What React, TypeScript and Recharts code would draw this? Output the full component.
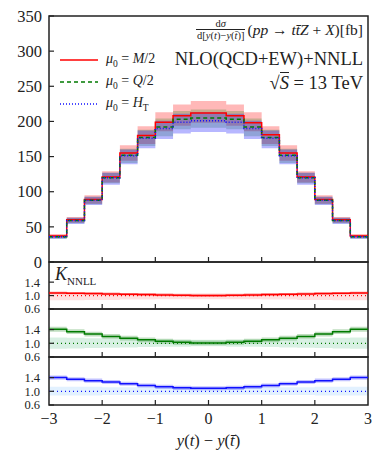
import React from 'react';
import {
  ComposedChart,
  Line,
  Area,
  XAxis,
  YAxis,
  ReferenceLine,
  ReferenceArea,
} from 'recharts';

// bin edges of y(t) - y(tbar), 18 bins of width 1/3
const binEdges = [
  -3, -2.6667, -2.3333, -2, -1.6667, -1.3333, -1, -0.6667, -0.3333, 0,
  0.3333, 0.6667, 1, 1.3333, 1.6667, 2, 2.3333, 2.6667, 3,
];
const xTicks = [-3, -2, -1, 0, 1, 2, 3];
const mainTicks = [0, 50, 100, 150, 200, 250, 300, 350];
const ratioTicks = [0.6, 1.0, 1.4];

// main panel, dsigma/dy [fb]
const sigM2 = [37, 60, 89, 121, 155, 180, 199, 208, 212, 212, 208, 198, 181, 155, 121, 89, 60, 37];
const sigM2Lo = [34, 56, 83, 113, 144, 168, 186, 194, 198, 198, 194, 186, 168, 144, 113, 83, 56, 34];
const sigM2Hi = [40, 64, 95, 129, 166, 193, 213, 224, 229, 229, 224, 213, 193, 166, 129, 95, 64, 40];

const sigQ2 = [36, 59, 88, 120, 152, 177, 192, 203, 205, 205, 203, 192, 177, 152, 120, 88, 59, 36];
const sigQ2Lo = [33, 55, 82, 112, 141, 165, 179, 189, 191, 191, 189, 179, 165, 141, 112, 82, 55, 33];
const sigQ2Hi = [38, 63, 93, 127, 161, 188, 204, 215, 217, 217, 215, 204, 188, 161, 127, 93, 63, 38];

const sigHT = [36, 59, 88, 120, 151, 176, 190, 199, 201, 201, 199, 190, 176, 151, 120, 88, 59, 36];
const sigHTLo = [33, 54, 81, 110, 139, 162, 175, 183, 185, 185, 183, 175, 162, 139, 110, 81, 54, 33];
const sigHTHi = [38, 63, 93, 127, 160, 187, 201, 211, 213, 213, 211, 201, 187, 160, 127, 93, 63, 38];

// K factors (NNLL / NLO)
const kM2 = [1.08, 1.07, 1.06, 1.05, 1.04, 1.03, 1.02, 1.01, 1.0, 1.0, 1.01, 1.02, 1.03, 1.04, 1.05, 1.06, 1.07, 1.08];
const kM2Lo = [1.04, 1.03, 1.02, 1.01, 1.0, 0.99, 0.98, 0.97, 0.96, 0.96, 0.97, 0.98, 0.99, 1.0, 1.01, 1.02, 1.03, 1.04];
const kM2Hi = [1.12, 1.11, 1.1, 1.09, 1.08, 1.07, 1.06, 1.05, 1.04, 1.04, 1.05, 1.06, 1.07, 1.08, 1.09, 1.1, 1.11, 1.12];
const nloM2Lo = [0.86, 0.86, 0.87, 0.87, 0.88, 0.88, 0.89, 0.89, 0.89, 0.89, 0.89, 0.89, 0.88, 0.88, 0.87, 0.87, 0.86, 0.86];
const nloM2Hi = [1.1, 1.1, 1.09, 1.09, 1.08, 1.08, 1.08, 1.07, 1.07, 1.07, 1.07, 1.08, 1.08, 1.08, 1.09, 1.09, 1.1, 1.1];

const kQ2 = [1.41, 1.34, 1.27, 1.2, 1.15, 1.1, 1.06, 1.03, 1.01, 1.01, 1.03, 1.06, 1.1, 1.15, 1.2, 1.27, 1.34, 1.41];
const kQ2Lo = [1.34, 1.27, 1.2, 1.13, 1.08, 1.03, 0.99, 0.96, 0.94, 0.94, 0.96, 0.99, 1.03, 1.08, 1.13, 1.2, 1.27, 1.34];
const kQ2Hi = [1.48, 1.41, 1.34, 1.27, 1.22, 1.17, 1.13, 1.1, 1.08, 1.08, 1.1, 1.13, 1.17, 1.22, 1.27, 1.34, 1.41, 1.48];
const nloQ2Lo = [0.84, 0.85, 0.86, 0.87, 0.88, 0.89, 0.9, 0.9, 0.91, 0.91, 0.9, 0.9, 0.89, 0.88, 0.87, 0.86, 0.85, 0.84];
const nloQ2Hi = [1.17, 1.16, 1.15, 1.14, 1.13, 1.12, 1.11, 1.1, 1.1, 1.1, 1.1, 1.11, 1.12, 1.13, 1.14, 1.15, 1.16, 1.17];

const kHT = [1.4, 1.35, 1.31, 1.27, 1.22, 1.17, 1.13, 1.1, 1.09, 1.09, 1.1, 1.13, 1.17, 1.22, 1.27, 1.31, 1.35, 1.4];
const kHTLo = [1.34, 1.29, 1.25, 1.21, 1.16, 1.11, 1.07, 1.04, 1.03, 1.03, 1.04, 1.07, 1.11, 1.16, 1.21, 1.25, 1.29, 1.34];
const kHTHi = [1.46, 1.41, 1.37, 1.33, 1.28, 1.23, 1.19, 1.16, 1.15, 1.15, 1.16, 1.19, 1.23, 1.28, 1.33, 1.37, 1.41, 1.46];
const nloHTLo = [0.88, 0.88, 0.88, 0.89, 0.89, 0.89, 0.9, 0.9, 0.9, 0.9, 0.9, 0.9, 0.89, 0.89, 0.89, 0.88, 0.88, 0.88];
const nloHTHi = [1.13, 1.13, 1.13, 1.12, 1.12, 1.12, 1.11, 1.11, 1.11, 1.11, 1.11, 1.11, 1.12, 1.12, 1.12, 1.13, 1.13, 1.13];

const W = 392;
const H = 476;
const PLOT_L = 49;
const PLOT_R = 368;
const FONT = '"Liberation Serif", "DejaVu Serif", serif';
const INK = '#222';
const RED = '#ff0000';
const GREEN = '#007a00';
const BLUE = '#1010ff';

// one row per bin edge, last edge repeats the last bin so stepAfter closes the histogram
const stepRows = (cols: Record<string, number[]>) =>
  binEdges.map((x, i) => {
    const row: Record<string, number> = { x };
    Object.keys(cols).forEach((k) => {
      const arr = cols[k];
      row[k] = arr[Math.min(i, arr.length - 1)];
    });
    return row;
  });

const mainRows = stepRows({ sigM2, sigM2Lo, sigM2Hi, sigQ2, sigQ2Lo, sigQ2Hi, sigHT, sigHTLo, sigHTHi });

const XTick = ({ x, y, payload, showLabel }: any) => {
  const v = payload.value;
  return (
    <g>
      {v > -3 && v < 3 && <line x1={x} x2={x} y1={y} y2={y - 5} stroke={INK} strokeWidth={1.2} />}
      {showLabel && (
        <text x={x} y={y + 19} textAnchor="middle" fontFamily={FONT} fontSize={16} fill={INK}>
          {v < 0 ? `\u2212${Math.abs(v)}` : `${v}`}
        </text>
      )}
    </g>
  );
};

const YTick = ({ x, y, payload, digits, size, gap }: any) => (
  <g>
    <line x1={x} x2={x + 5} y1={y} y2={y} stroke={INK} strokeWidth={1.2} />
    <text x={x - gap} y={y} dy="0.35em" textAnchor="end" fontFamily={FONT} fontSize={size} fill={INK}>
      {payload.value.toFixed(digits)}
    </text>
  </g>
);

const layerStyle: React.CSSProperties = { position: 'absolute', left: 0, top: 0 };

const margins = (top: number, bottom: number) => ({
  top,
  right: W - PLOT_R,
  bottom: H - bottom - 30,
  left: 0,
});

const RatioPanel = ({ top, bottom, k, kLo, kHi, lo, hi, color, nloColor, nloOpacity, showLabels }: any) => {
  const rows = stepRows({ k, kLo, kHi, lo, hi });
  return (
    <div style={layerStyle}>
      <ComposedChart width={W} height={H} data={rows} margin={margins(top, bottom)}>
        <XAxis
          type="number"
          dataKey="x"
          domain={[-3, 3]}
          ticks={xTicks}
          interval={0}
          allowDataOverflow
          axisLine={false}
          tickLine={false}
          tickSize={0}
          tickMargin={0}
          height={30}
          tick={(p: any) => <XTick {...p} showLabel={showLabels} />}
        />
        <YAxis
          type="number"
          domain={[0.6, 2.0]}
          ticks={ratioTicks}
          interval={0}
          allowDataOverflow
          width={PLOT_L}
          axisLine={false}
          tickLine={false}
          tickSize={0}
          tickMargin={0}
          tick={(p: any) => <YTick {...p} digits={1} size={12.5} gap={9} />}
        />
        <Area
          type="stepAfter"
          dataKey={(d: any) => [d.lo, d.hi]}
          stroke="none"
          fill={nloColor}
          fillOpacity={nloOpacity}
          isAnimationActive={false}
        />
        <Area
          type="stepAfter"
          dataKey={(d: any) => [d.kLo, d.kHi]}
          stroke="none"
          fill={color}
          fillOpacity={0.25}
          isAnimationActive={false}
        />
        <ReferenceLine y={1} stroke={color} strokeWidth={1.3} strokeDasharray="1 3" />
        <Line type="stepAfter" dataKey="k" stroke={color} strokeWidth={1.5} dot={false} isAnimationActive={false} />
        <ReferenceArea x1={-3} x2={3} y1={0.6} y2={2.0} fill="none" stroke={INK} strokeWidth={1.5} ifOverflow="visible" />
      </ComposedChart>
    </div>
  );
};

const LegendRow = ({ top, color, dash, children }: any) => (
  <div style={{ position: 'absolute', left: 60, top, display: 'flex', alignItems: 'center', height: 16 }}>
    <svg width={38} height={6} style={{ marginRight: 8 }}>
      <line x1={0} x2={38} y1={3} y2={3} stroke={color} strokeWidth={1.5} strokeDasharray={dash} />
    </svg>
    <span style={{ fontFamily: FONT, fontSize: 14, color: INK, whiteSpace: 'nowrap' }}>{children}</span>
  </div>
);

const App = () => {
  return (
    <div style={{ position: 'fixed', left: 0, top: 0, width: W, height: H, background: '#fff', overflow: 'hidden' }}>
      <div style={layerStyle}>
        <ComposedChart width={W} height={H} data={mainRows} margin={margins(16, 262)}>
          <XAxis
            type="number"
            dataKey="x"
            domain={[-3, 3]}
            ticks={xTicks}
            interval={0}
            allowDataOverflow
            axisLine={false}
            tickLine={false}
            tickSize={0}
            tickMargin={0}
            height={30}
            tick={(p: any) => <XTick {...p} showLabel={false} />}
          />
          <YAxis
            type="number"
            domain={[0, 350]}
            ticks={mainTicks}
            interval={0}
            allowDataOverflow
            width={PLOT_L}
            axisLine={false}
            tickLine={false}
            tickSize={0}
            tickMargin={0}
            tick={(p: any) => <YTick {...p} digits={0} size={16.5} gap={7} />}
          />
          <Area type="stepAfter" dataKey={(d: any) => [d.sigM2Lo, d.sigM2Hi]} stroke="none" fill={RED} fillOpacity={0.28} isAnimationActive={false} />
          <Area type="stepAfter" dataKey={(d: any) => [d.sigQ2Lo, d.sigQ2Hi]} stroke="none" fill={GREEN} fillOpacity={0.22} isAnimationActive={false} />
          <Area type="stepAfter" dataKey={(d: any) => [d.sigHTLo, d.sigHTHi]} stroke="none" fill={BLUE} fillOpacity={0.3} isAnimationActive={false} />
          <Line type="stepAfter" dataKey="sigM2" stroke={RED} strokeWidth={1.5} dot={false} isAnimationActive={false} />
          <Line type="stepAfter" dataKey="sigQ2" stroke={GREEN} strokeWidth={1.5} strokeDasharray="4 3" dot={false} isAnimationActive={false} />
          <Line type="stepAfter" dataKey="sigHT" stroke={BLUE} strokeWidth={1.5} strokeDasharray="1 2" dot={false} isAnimationActive={false} />
          <ReferenceArea x1={-3} x2={3} y1={0} y2={350} fill="none" stroke={INK} strokeWidth={1.5} ifOverflow="visible" />
        </ComposedChart>
      </div>

      <RatioPanel top={262} bottom={309} k={kM2} kLo={kM2Lo} kHi={kM2Hi} lo={nloM2Lo} hi={nloM2Hi} color={RED} nloColor={RED} nloOpacity={0.12} showLabels={false} />
      <RatioPanel top={309} bottom={357} k={kQ2} kLo={kQ2Lo} kHi={kQ2Hi} lo={nloQ2Lo} hi={nloQ2Hi} color={GREEN} nloColor="#3cb371" nloOpacity={0.2} showLabels={false} />
      <RatioPanel top={357} bottom={405} k={kHT} kLo={kHTLo} kHi={kHTHi} lo={nloHTLo} hi={nloHTHi} color={BLUE} nloColor="#1e90ff" nloOpacity={0.13} showLabels />

      {/* title block */}
      <div style={{ position: 'absolute', right: 29, top: 18, display: 'flex', alignItems: 'center', fontFamily: FONT, fontSize: 15.5, color: INK, whiteSpace: 'nowrap' }}>
        <span style={{ display: 'inline-flex', flexDirection: 'column', alignItems: 'center', fontSize: 10.5, lineHeight: '11px', marginRight: 2 }}>
          <span>d<i>σ</i></span>
          <span style={{ borderTop: `0.8px solid ${INK}`, padding: '0 1px' }}>
            d[<i>y</i>(<i>t</i>)−<i>y</i>(<i>t̄</i>)]
          </span>
        </span>
        <span>(<i>pp</i> → <i>tt̄Z</i> + <i>X</i>)[fb]</span>
      </div>
      <div style={{ position: 'absolute', right: 29, top: 48, fontFamily: FONT, fontSize: 18.5, lineHeight: '22px', color: INK, whiteSpace: 'nowrap' }}>
        NLO(QCD+EW)+NNLL
      </div>
      <div style={{ position: 'absolute', right: 29, top: 72, fontFamily: FONT, fontSize: 18.5, lineHeight: '22px', color: INK, whiteSpace: 'nowrap' }}>
        √<span style={{ borderTop: `1px solid ${INK}` }}><i>S</i></span> = 13 TeV
      </div>

      <LegendRow top={52} color={RED}>
        <i>μ</i><sub style={{ fontSize: 9.5 }}>0</sub> = <i>M</i>/2
      </LegendRow>
      <LegendRow top={74} color={GREEN} dash="4 3">
        <i>μ</i><sub style={{ fontSize: 9.5 }}>0</sub> = <i>Q</i>/2
      </LegendRow>
      <LegendRow top={96} color={BLUE} dash="1 2">
        <i>μ</i><sub style={{ fontSize: 9.5 }}>0</sub> = <i>H</i><sub style={{ fontSize: 9.5 }}>T</sub>
      </LegendRow>

      <div style={{ position: 'absolute', left: 55, top: 264, fontFamily: FONT, fontSize: 18, color: INK, whiteSpace: 'nowrap' }}>
        <i>K</i><sub style={{ fontSize: 11 }}>NNLL</sub>
      </div>

      <div style={{ position: 'absolute', left: 0, width: 417, top: 431, textAlign: 'center', fontFamily: FONT, fontSize: 16.5, color: INK, whiteSpace: 'nowrap' }}>
        <i>y</i>(<i>t</i>) − <i>y</i>(<i>t̄</i>)
      </div>
    </div>
  );
};

export default App;
